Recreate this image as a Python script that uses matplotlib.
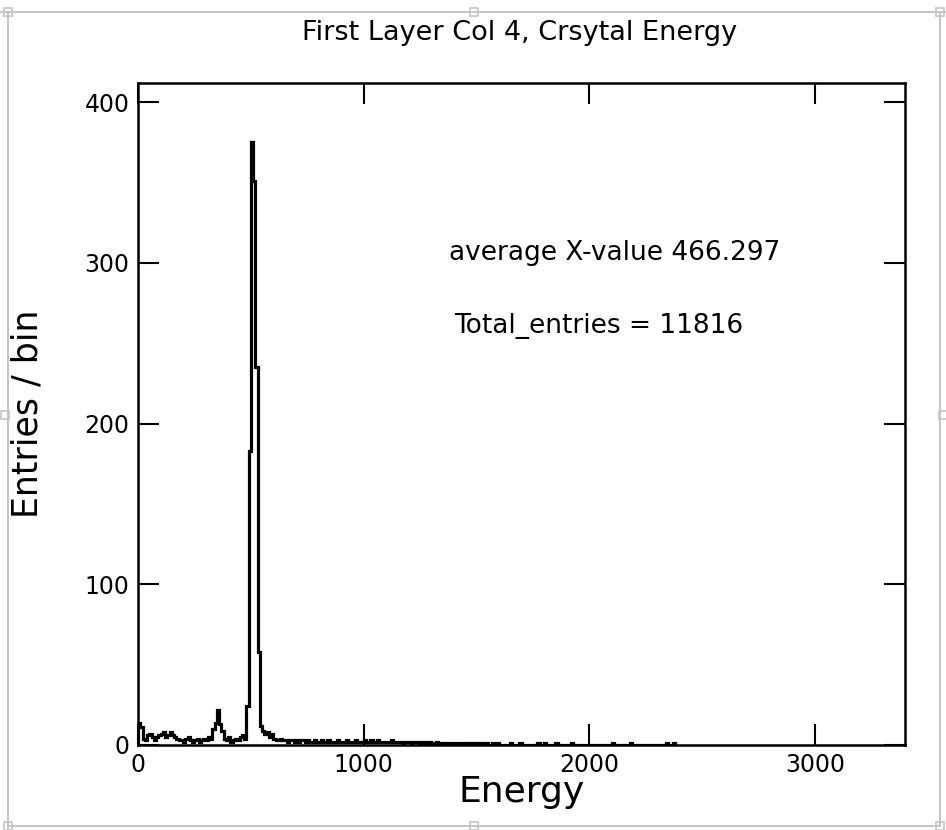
import numpy as np
import matplotlib
matplotlib.use("Agg")
import matplotlib.pyplot as plt
from matplotlib.patches import Rectangle
from matplotlib.lines import Line2D

# ---- histogram data (10-unit energy bins) ----
bin_width = 10
# counts for bins starting at 0, 10, 20, ... up to 1590
dense_counts = [
    14, 11, 4, 3, 6, 7, 5, 3, 5, 6,        # 0-100
    7, 8, 5, 6, 8, 6, 5, 4, 3, 3,          # 100-200
    2, 4, 5, 3, 2, 3, 4, 2, 3, 4,          # 200-300
    3, 5, 4, 10, 14, 22, 13, 9, 4, 3,      # 300-400
    5, 2, 3, 4, 3, 5, 6, 4, 24, 183,       # 400-500
    375, 351, 235, 58, 12, 9, 7, 8, 5, 7,  # 500-600
    4, 3, 3, 4, 3, 3, 2, 3, 3, 2,          # 600-700
    3, 2, 3, 3, 2, 3, 2, 2, 3, 2,          # 700-800
    2, 3, 2, 2, 3, 2, 2, 2, 3, 2,          # 800-900
    2, 2, 3, 2, 2, 2, 3, 2, 2, 2,          # 900-1000
    3, 2, 2, 3, 2, 2, 3, 2, 2, 2,          # 1000-1100
    2, 2, 3, 2, 2, 2, 2, 1, 2, 2,          # 1100-1200
    2, 1, 2, 2, 1, 2, 1, 2, 1, 2,          # 1200-1300
    1, 1, 2, 1, 1, 0, 1, 1, 0, 1,          # 1300-1400
    1, 1, 0, 1, 0, 1, 1, 1, 0, 1,          # 1400-1500
    0, 1, 0, 1, 1, 0, 0, 1, 0, 1,          # 1500-1600
]
# isolated entries in the high-energy tail
tail_energy = [1650, 1690, 1770, 1800, 1850, 1920, 2100, 2180, 2340, 2370]
tail_counts = [1, 1, 1, 1, 1, 1, 1, 1, 1, 1]

hist_max_energy = 2380
x_ticks = [0, 1000, 2000, 3000]
y_ticks = [0, 100, 200, 300, 400]
x_limits = (0, 3400)
y_limits = (0, 412)

title_text = "First Layer Col 4, Crsytal Energy"
x_label = "Energy"
y_label = "Entries / bin"
mean_text = "average X-value 466.297"
entries_text = "Total_entries = 11816"

# ---- assemble the full count array ----
edges = np.arange(0, hist_max_energy + bin_width, bin_width)
counts = np.zeros(len(edges) - 1)
counts[:len(dense_counts)] = dense_counts
for e, c in zip(tail_energy, tail_counts):
    counts[int(e // bin_width)] += c

W, H = 946, 830
fig = plt.figure(figsize=(W / 100, H / 100), dpi=100)
fig.patch.set_facecolor("white")

ax = fig.add_axes([138 / W, 1 - 745 / H, (905 - 138) / W, (745 - 83) / H])
ax.stairs(counts, edges, color="black", linewidth=2.3, baseline=0)

ax.set_xlim(*x_limits)
ax.set_ylim(*y_limits)
ax.set_xticks(x_ticks)
ax.set_yticks(y_ticks)
ax.tick_params(direction="in", length=15, width=1.5, top=True, right=True,
               labelsize=17, pad=6, color="black")
for s in ax.spines.values():
    s.set_linewidth(1.8)

ax.set_xlabel(x_label, fontsize=26)
ax.xaxis.set_label_coords(0.5, -0.046)
ax.xaxis.label.set_va("top")
ax.set_ylabel(y_label, fontsize=25)
ax.yaxis.set_label_coords(-0.122, 0.5)

ax.text(1379, 306, mean_text, fontsize=19, ha="left", va="center")
ax.text(1401, 261, entries_text, fontsize=19, ha="left", va="center")

fig.text(520 / W, 1 - 33 / H, title_text, fontsize=19.5, ha="center", va="center")

# ---- surrounding selection frame with handles ----
frame_col = "#c4c4c4"
def px(x, y):
    return x / W, 1 - y / H

for (x0, y0, x1, y1) in [(0, 12, W, 12), (8, 12, 8, H), (940, 12, 940, 826),
                         (8, 826, 940, 826)]:
    a, b = px(x0, y0)
    c, d = px(x1, y1)
    fig.add_artist(Line2D([a, c], [b, d], transform=fig.transFigure,
                          color=frame_col, linewidth=1.4))

for (hx, hy) in [(8, 12), (474, 12), (940, 12), (5, 415), (943, 415),
                 (8, 826), (474, 826), (940, 826)]:
    a, b = px(hx - 4, hy + 4)
    fig.add_artist(Rectangle((a, b), 8 / W, 8 / H, transform=fig.transFigure,
                             facecolor="white", edgecolor=frame_col,
                             linewidth=1.2))

fig.savefig("out.png", dpi=100)
